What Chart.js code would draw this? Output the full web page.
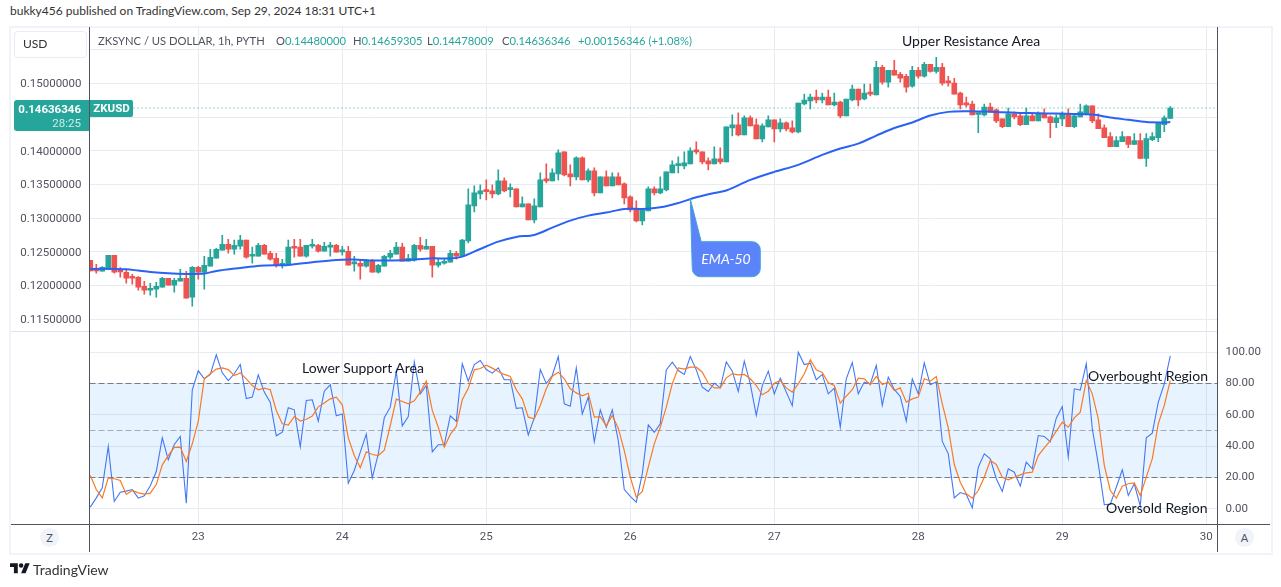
<!DOCTYPE html>
<html lang="en">
<head>
    <meta charset="UTF-8">
    <title>ZKSYNC / US DOLLAR, 1h</title>
    <script src="https://cdn.jsdelivr.net/npm/chart.js"></script>
    <style>
        html, body { margin: 0; padding: 0; background: #fff; overflow: hidden; }
        body { width: 1281px; height: 587px; position: relative; font-family: Lato, sans-serif; color: #131722; }
        .abs { position: absolute; white-space: nowrap; }
        canvas { position: absolute; left: 10px; }
        .legend { top: 34px; font-size: 11.2px; line-height: 14px; color: #50535e; }
        .teal { color: #26a69a; }
        .circle { width: 19px; height: 19px; line-height: 19px; border-radius: 50%; background: #f0f3fa; text-align: center; font-size: 11px; color: #50535e; }
        .note { font-size: 14px; line-height: 16px; color: #131722; }
    </style>
</head>
<body>
    <div class="abs" style="left:10px;top:3px;font-size:12px;line-height:16px;color:#333">bukky456 published on TradingView.com, Sep 29, 2024 18:31 UTC+1</div>

    <div class="abs" style="left:9px;top:26px;width:1260px;height:525px;border:2px solid #f0f3fa"></div>

    <canvas id="price-chart" width="1261" height="304" style="top:27px"></canvas>
    <canvas id="osc-chart" width="1261" height="221" style="top:331px"></canvas>

    <!-- pane borders -->
    <div class="abs" style="left:11px;top:331px;width:1206px;height:1px;background:#e0e3eb"></div>
    <div class="abs" style="left:11px;top:524px;width:1259px;height:1px;background:#50535e"></div>
    <div class="abs" style="left:89px;top:27px;width:1px;height:525px;background:#50535e"></div>
    <div class="abs" style="left:1217px;top:27px;width:1px;height:525px;background:#50535e"></div>

    <div class="abs" style="left:14px;top:31px;width:71px;height:25px;border:1px solid #e9ecf2;border-radius:4px;background:#fff"></div>
    <div class="abs" style="left:23px;top:37px;font-size:12px;line-height:14px;color:#333">USD</div>

    <!-- legend -->
    <div class="abs legend" style="left:98px">ZKSYNC / US DOLLAR, 1h, PYTH</div>
    <div class="abs legend" style="left:276px">O<span class="teal">0.14480000</span></div>
    <div class="abs legend" style="left:353px">H<span class="teal">0.14659305</span></div>
    <div class="abs legend" style="left:427px">L<span class="teal">0.14478009</span></div>
    <div class="abs legend" style="left:502px">C<span class="teal">0.14636346</span></div>
    <div class="abs legend" style="left:578px"><span class="teal">+0.00156346 (+1.08%)</span></div>

    <!-- last price tags -->
    <div class="abs" style="left:14px;top:100px;width:75px;height:31px;background:#26a69a;border-radius:3px 0 0 3px"></div>
    <div class="abs" style="left:14px;top:102px;width:67px;text-align:right;font-family:Roboto;font-size:11.5px;line-height:14px;font-weight:700;color:#fff">0.14636346</div>
    <div class="abs" style="left:14px;top:116px;width:67px;text-align:right;font-family:Roboto;font-size:11.5px;line-height:14px;color:#cdebe7">28:25</div>
    <div class="abs" style="left:90px;top:100px;width:43px;height:17px;line-height:17px;background:#26a69a;border-radius:0 2px 2px 0;text-align:center;font-family:Roboto;font-size:11.5px;font-weight:700;color:#fff">ZKUSD</div>

    <!-- drawings -->
    <div class="abs note" style="left:902px;top:33px">Upper Resistance Area</div>
    <div class="abs note" style="left:302px;top:360px">Lower Support Area</div>
    <div class="abs note" style="left:1088px;top:368px">Overbought Region</div>
    <div class="abs note" style="left:1106px;top:500px">Oversold Region</div>
    <div class="abs" style="left:692px;top:242px;width:68px;height:35px;line-height:34px;text-align:center;font-size:14px;font-style:italic;color:#fff">EMA-50</div>

    <div class="abs circle" style="left:40px;top:528px">Z</div>
    <div class="abs circle" style="left:1235px;top:528px">A</div>

    <svg class="abs" style="left:10px;top:561px" width="20" height="15.5" viewBox="0 0 36 28"><path fill="#131722" d="M14 22H7V11H0V4h14v18zM28 22h-8l7.5-18h8L28 22z"/><circle fill="#131722" cx="20" cy="8" r="4"/></svg>
    <div class="abs" style="left:33px;top:561px;font-size:14px;line-height:17px;color:#333">TradingView</div>

    <script>
        // hourly bars, Sep 22 06:00 -> Sep 29 18:00
        const opens = [
            0.12376,0.12248,0.12213,0.12248,0.12451,0.12213,0.12198,0.12119,0.12124,0.11990,
            0.11931,0.11946,0.11976,0.12109,0.12005,0.12065,0.12109,0.11827,0.12273,0.12198,
            0.12287,0.12406,0.12525,0.12614,0.12540,0.12584,0.12674,0.12436,0.12436,0.12599,
            0.12480,0.12406,0.12302,0.12317,0.12570,0.12570,0.12436,0.12584,0.12599,0.12510,
            0.12570,0.12599,0.12500,0.12510,0.12322,0.12332,0.12287,0.12376,0.12198,0.12287,
            0.12421,0.12466,0.12570,0.12362,0.12376,0.12599,0.12540,0.12584,0.12302,0.12332,
            0.12347,0.12480,0.12436,0.12663,0.13183,0.13361,0.13406,0.13406,0.13361,0.13554,
            0.13425,0.13435,0.13168,0.13213,0.12975,0.13168,0.13569,0.13554,0.13658,0.13985,
            0.13658,0.13614,0.13896,0.13569,0.13703,0.13376,0.13614,0.13480,0.13614,0.13510,
            0.13317,0.13138,0.12960,0.13109,0.13435,0.13376,0.13420,0.13673,0.13782,0.13777,
            0.13807,0.14000,0.13985,0.13851,0.13807,0.13881,0.13836,0.14341,0.14386,0.14237,
            0.14490,0.14386,0.14178,0.14356,0.14460,0.14326,0.14415,0.14341,0.14282,0.14696,
            0.14740,0.14799,0.14755,0.14799,0.14682,0.14726,0.14520,0.14755,0.14917,0.14770,
            0.14858,0.14829,0.15240,0.15020,0.15196,0.15137,0.15108,0.14961,0.15196,0.15108,
            0.15284,0.15181,0.15240,0.15020,0.15005,0.14858,0.14696,0.14696,0.14540,0.14535,
            0.14652,0.14608,0.14476,0.14358,0.14549,0.14520,0.14388,0.14520,0.14446,0.14549,
            0.14505,0.14417,0.14476,0.14535,0.14358,0.14505,0.14549,0.14667,0.14461,0.14343,
            0.14211,0.14064,0.14138,0.14211,0.14094,0.14152,0.13888,0.14167,0.14196,0.14388,
            0.14480
        ];
        const highs = [
            0.12376,0.12317,0.12282,0.12451,0.12451,0.12268,0.12238,0.12169,0.12134,0.12065,
            0.12035,0.12050,0.12124,0.12109,0.12109,0.12243,0.12213,0.12282,0.12287,0.12436,
            0.12540,0.12555,0.12748,0.12688,0.12674,0.12748,0.12674,0.12570,0.12629,0.12614,
            0.12510,0.12480,0.12391,0.12674,0.12688,0.12688,0.12599,0.12688,0.12614,0.12644,
            0.12644,0.12614,0.12584,0.12584,0.12436,0.12376,0.12391,0.12391,0.12317,0.12451,
            0.12525,0.12644,0.12629,0.12466,0.12614,0.12718,0.12688,0.12584,0.12391,0.12406,
            0.12525,0.12510,0.12688,0.13435,0.13480,0.13495,0.13569,0.13495,0.13717,0.13599,
            0.13510,0.13435,0.13317,0.13213,0.13287,0.13673,0.13807,0.13732,0.14015,0.13985,
            0.13792,0.13911,0.13911,0.13732,0.13747,0.13614,0.13703,0.13673,0.13673,0.13524,
            0.13331,0.13257,0.13138,0.13465,0.13465,0.13614,0.13688,0.13851,0.13911,0.13985,
            0.14044,0.14133,0.13985,0.13896,0.14059,0.14044,0.14356,0.14534,0.14564,0.14519,
            0.14519,0.14475,0.14401,0.14519,0.14460,0.14475,0.14430,0.14445,0.14711,0.14843,
            0.14843,0.14902,0.14858,0.14902,0.14858,0.14740,0.14770,0.14976,0.14917,0.14990,
            0.14990,0.15328,0.15270,0.15196,0.15343,0.15167,0.15137,0.15255,0.15240,0.15314,
            0.15284,0.15387,0.15299,0.15108,0.15078,0.14873,0.14799,0.14740,0.14559,0.14696,
            0.14711,0.14623,0.14476,0.14637,0.14579,0.14549,0.14637,0.14549,0.14579,0.14623,
            0.14520,0.14535,0.14579,0.14623,0.14535,0.14696,0.14682,0.14667,0.14549,0.14388,
            0.14270,0.14211,0.14285,0.14211,0.14255,0.14255,0.14255,0.14270,0.14417,0.14520,
            0.14659
        ];
        const lows = [
            0.12218,0.12183,0.12213,0.12248,0.12183,0.12124,0.12035,0.12020,0.11931,0.11872,
            0.11857,0.11827,0.11976,0.12005,0.11901,0.12065,0.11812,0.11693,0.12094,0.11946,
            0.12287,0.12406,0.12525,0.12480,0.12466,0.12540,0.12406,0.12332,0.12436,0.12466,
            0.12376,0.12273,0.12258,0.12317,0.12421,0.12436,0.12421,0.12555,0.12495,0.12510,
            0.12436,0.12495,0.12451,0.12302,0.12213,0.12094,0.12273,0.12198,0.12183,0.12287,
            0.12391,0.12466,0.12362,0.12362,0.12362,0.12510,0.12540,0.12124,0.12273,0.12317,
            0.12347,0.12391,0.12436,0.12633,0.13094,0.13287,0.13272,0.13302,0.13346,0.13391,
            0.13317,0.13168,0.13168,0.12975,0.12930,0.13168,0.13524,0.13554,0.13569,0.13628,
            0.13480,0.13569,0.13569,0.13539,0.13331,0.13376,0.13480,0.13480,0.13495,0.13213,
            0.13094,0.12945,0.12901,0.13109,0.13346,0.13361,0.13406,0.13673,0.13673,0.13732,
            0.13807,0.13955,0.13807,0.13717,0.13807,0.13807,0.13836,0.14222,0.14222,0.14237,
            0.14371,0.14178,0.14133,0.14356,0.14133,0.14282,0.14297,0.14267,0.14267,0.14681,
            0.14623,0.14711,0.14711,0.14682,0.14667,0.14490,0.14520,0.14740,0.14667,0.14755,
            0.14814,0.14829,0.14990,0.14946,0.15123,0.15020,0.14873,0.14946,0.15078,0.15093,
            0.15167,0.15152,0.14976,0.14961,0.14843,0.14623,0.14652,0.14535,0.14270,0.14520,
            0.14579,0.14417,0.14343,0.14358,0.14476,0.14373,0.14388,0.14446,0.14446,0.14490,
            0.14196,0.14343,0.14373,0.14358,0.14343,0.14505,0.14535,0.14417,0.14329,0.14196,
            0.14064,0.14064,0.14138,0.14049,0.14094,0.13888,0.13770,0.14152,0.14138,0.14285,
            0.14478
        ];
        const closes = [
            0.12218,0.12218,0.12273,0.12451,0.12198,0.12203,0.12109,0.12109,0.11976,0.11931,
            0.11961,0.11990,0.12109,0.12005,0.12080,0.12109,0.11812,0.12273,0.12198,0.12302,
            0.12421,0.12540,0.12614,0.12540,0.12599,0.12674,0.12421,0.12451,0.12599,0.12466,
            0.12391,0.12302,0.12332,0.12570,0.12555,0.12436,0.12599,0.12599,0.12510,0.12584,
            0.12599,0.12495,0.12510,0.12302,0.12332,0.12287,0.12376,0.12198,0.12302,0.12436,
            0.12480,0.12570,0.12362,0.12406,0.12599,0.12540,0.12584,0.12302,0.12347,0.12362,
            0.12480,0.12436,0.12674,0.13198,0.13376,0.13406,0.13396,0.13361,0.13554,0.13406,
            0.13435,0.13168,0.13213,0.12975,0.13183,0.13569,0.13554,0.13673,0.13970,0.13643,
            0.13614,0.13896,0.13569,0.13703,0.13376,0.13614,0.13480,0.13614,0.13495,0.13302,
            0.13123,0.12960,0.13123,0.13435,0.13376,0.13435,0.13688,0.13792,0.13792,0.13821,
            0.14000,0.13985,0.13836,0.13807,0.13881,0.13836,0.14356,0.14386,0.14237,0.14490,
            0.14371,0.14178,0.14371,0.14460,0.14326,0.14415,0.14326,0.14282,0.14711,0.14755,
            0.14799,0.14755,0.14799,0.14682,0.14726,0.14520,0.14770,0.14917,0.14755,0.14858,
            0.14843,0.15240,0.15020,0.15196,0.15123,0.15078,0.14946,0.15196,0.15108,0.15284,
            0.15181,0.15240,0.15005,0.15010,0.14843,0.14682,0.14682,0.14535,0.14549,0.14652,
            0.14593,0.14446,0.14358,0.14549,0.14505,0.14388,0.14520,0.14446,0.14549,0.14490,
            0.14417,0.14490,0.14549,0.14358,0.14520,0.14579,0.14667,0.14446,0.14329,0.14196,
            0.14064,0.14152,0.14211,0.14094,0.14152,0.13888,0.14182,0.14211,0.14417,0.14490,
            0.14636
        ];

        // EMA-50, read at these bars only
        const emaBars = [0,4,6,8,10,13,16,19,21,25,27,29,33,37,41,44,47,52,57,60,62,65,68,71,74,77,80,83,86,89,92,95,98,101,104,106,110,114,118,122,125,128,131,134,137,140,143,146,149,152,155,158,161,164,167,170,173,176,179,180];
        const emaValues = [0.12248,0.12248,0.12243,0.12223,0.12203,0.12183,0.12174,0.12178,0.12218,0.12263,0.12282,0.12297,0.12307,0.12347,0.12381,0.12386,0.12372,0.12376,0.12406,0.12402,0.12430,0.12544,0.12653,0.12723,0.12752,0.12861,0.12965,0.13039,0.13084,0.13138,0.13138,0.13163,0.13227,0.13312,0.13376,0.13411,0.13569,0.13688,0.13792,0.13940,0.14035,0.14108,0.14226,0.14339,0.14422,0.14525,0.14579,0.14588,0.14584,0.14574,0.14564,0.14559,0.14554,0.14549,0.14539,0.14495,0.14461,0.14427,0.14422,0.14427];

        // stochastic RSI
        const stochK = [
            1.1,7.0,13.4,39.8,4.7,10.6,11.3,12.3,6.8,8.3,
            14.7,23.8,45.3,31.3,41.1,46.2,3.6,76.0,88.1,83.0,
            85.8,98.3,86.8,81.9,86.2,92.1,70.4,71.3,85.5,74.5,
            67.9,46.6,48.9,64.5,63.2,39.6,69.2,69.6,56.0,75.1,
            79.2,59.4,60.6,16.4,24.5,36.2,47.7,19.8,35.1,58.1,
            64.9,87.9,53.0,58.9,93.8,73.4,78.7,36.4,40.9,40.9,
            59.4,55.8,92.6,81.5,92.1,94.7,88.9,86.6,90.0,82.4,
            82.4,64.1,64.5,47.2,58.1,88.9,80.0,85.1,97.2,67.0,
            65.5,90.0,60.6,71.3,42.8,63.2,52.1,63.2,43.6,12.3,
            7.9,4.3,22.3,53.6,48.9,54.3,88.7,93.6,88.3,85.8,
            97.2,88.7,77.7,74.9,80.2,77.2,93.8,87.9,74.9,94.3,
            79.8,59.6,78.7,87.9,73.4,83.4,74.5,65.8,100.0,92.1,
            93.0,82.4,85.8,73.4,77.0,52.1,83.0,93.4,73.4,80.9,
            79.8,91.5,66.0,84.1,76.2,71.7,56.0,83.0,73.4,93.2,
            79.2,81.1,43.0,35.1,7.0,10.4,9.2,0.6,26.6,35.1,
            31.9,19.2,11.1,25.5,23.4,14.5,29.8,25.5,46.8,46.2,
            42.8,57.9,65.3,33.0,76.6,75.8,92.6,51.1,28.7,2.6,
            3.0,13.8,24.9,8.5,16.0,1.7,45.3,48.3,68.1,79.8,
            97.7
        ];
        const stochD = [
            21.3,12.3,7.0,19.8,19.2,18.1,9.2,11.7,10.2,9.4,
            10.0,15.5,28.1,34.0,39.2,39.4,30.2,41.5,56.0,83.0,
            86.2,89.2,90.0,88.9,85.1,86.8,83.0,78.7,76.0,77.0,
            76.0,62.8,54.3,53.4,58.9,56.0,57.2,59.2,65.1,67.5,
            70.2,71.3,66.4,45.3,34.0,26.2,36.4,34.7,34.0,37.5,
            53.2,70.0,68.5,67.0,68.9,74.5,81.5,62.8,52.1,39.4,
            47.5,52.6,69.6,77.0,88.7,89.6,91.7,89.8,87.7,85.8,
            84.5,76.0,70.2,58.5,57.5,66.0,76.6,84.7,87.2,83.0,
            76.6,74.0,72.1,73.8,58.5,58.9,53.0,59.6,51.5,37.2,
            20.2,7.4,11.1,26.6,41.5,52.1,64.9,79.8,90.0,89.2,
            90.4,90.4,87.2,80.2,77.2,77.2,83.6,86.2,85.5,85.8,
            83.0,78.7,72.8,75.1,80.2,81.9,77.2,74.5,79.8,86.2,
            95.1,88.7,87.0,80.4,78.7,67.5,71.9,76.0,83.4,83.0,
            79.2,84.5,79.4,80.9,75.5,77.2,68.1,70.2,71.3,83.0,
            81.5,84.5,67.0,51.7,28.3,17.0,9.6,6.8,11.7,20.2,
            30.9,28.3,20.2,18.5,20.2,21.7,23.0,23.4,34.0,38.9,
            43.6,49.6,55.3,52.1,58.1,61.7,81.9,73.4,57.5,27.7,
            11.7,6.8,14.5,16.0,16.6,8.5,20.2,31.9,54.3,66.0,
            81.9
        ];

        const lastPrice = 0.14636346;
        const priceTicks = [0.115,0.12,0.125,0.13,0.135,0.14,0.145,0.15,0.155];
        const oscTicks = [0,20,40,60,80,100];
        const oscLevels = [80,50,20];
        const dayTickBars = [18,42,66,90,114,138,162,186];
        const dayLabels = ['23','24','25','26','27','28','29','30'];

        const UP = '#26a69a', DOWN = '#ef5350', GRID = '#e6ecf2';
        const AXIS_FONT = { family: 'Roboto', size: 11.5 };
        const X_MIN = -0.13, X_MAX = 187.87;

        const barColors = closes.map((c, i) => c >= opens[i] ? UP : DOWN);

        // label overhang must not shrink the chart area
        function noScalePadding(s) {
            s.paddingTop = s.paddingBottom = s.paddingLeft = s.paddingRight = 0;
        }

        // shared x axis, one unit is one hourly bar
        function timeAxis(showLabels) {
            return {
                type: 'linear', min: X_MIN, max: X_MAX, offset: false,
                afterBuildTicks: s => { s.ticks = dayTickBars.map(v => ({ value: v })); },
                afterFit: s => { s.height = showLabels ? 28 : 0; noScalePadding(s); },
                grid: { color: GRID, drawTicks: false, offset: false },
                border: { display: false },
                ticks: {
                    display: showLabels, autoSkip: false, maxRotation: 0, padding: 6,
                    color: '#50535e', font: AXIS_FONT,
                    callback: (v, i) => dayLabels[i]
                }
            };
        }

        // blue callout pointing at the EMA line
        const calloutBar = 100, calloutPrice = 0.1329;
        const emaCallout = {
            id: 'emaCallout',
            afterDatasetsDraw(chart) {
                const c = chart.ctx;
                const tipX = chart.scales.x.getPixelForValue(calloutBar);
                const tipY = chart.scales.y.getPixelForValue(calloutPrice);
                const l = tipX + 2, t = tipY + 43, w = 68, h = 35, r = 8;
                c.save();
                c.beginPath();
                c.moveTo(tipX, tipY);
                c.lineTo(l + 9, t);
                c.lineTo(l + w - r, t);
                c.arcTo(l + w, t, l + w, t + r, r);
                c.lineTo(l + w, t + h - r);
                c.arcTo(l + w, t + h, l + w - r, t + h, r);
                c.lineTo(l + r, t + h);
                c.arcTo(l, t + h, l, t + h - r, r);
                c.closePath();
                c.fillStyle = '#5b84fb';
                c.strokeStyle = '#45a3d8';
                c.lineWidth = 1;
                c.fill();
                c.stroke();
                c.restore();
            }
        };

        new Chart(document.getElementById('price-chart'), {
            data: {
                datasets: [
                    {
                        type: 'line', order: 0,
                        data: emaBars.map((b, i) => ({ x: b, y: emaValues[i] })),
                        borderColor: '#2a62f5', borderWidth: 2, pointRadius: 0, tension: 0.3
                    },
                    {
                        type: 'bar', order: 1, grouped: false, barThickness: 5, minBarLength: 2,
                        data: closes.map((c, i) => ({ x: i, y: [Math.min(opens[i], c), Math.max(opens[i], c)] })),
                        backgroundColor: barColors
                    },
                    {
                        type: 'bar', order: 2, grouped: false, barThickness: 1,
                        data: closes.map((c, i) => ({ x: i, y: [lows[i], highs[i]] })),
                        backgroundColor: barColors
                    },
                    {
                        type: 'line', order: 3,
                        data: [{ x: X_MIN, y: lastPrice }, { x: X_MAX, y: lastPrice }],
                        borderColor: UP, borderWidth: 1, borderDash: [1, 3], pointRadius: 0
                    }
                ]
            },
            options: {
                responsive: false, animation: false, events: [],
                layout: { padding: { right: 53.5 } },
                plugins: { legend: { display: false }, tooltip: { enabled: false } },
                scales: {
                    x: timeAxis(false),
                    y: {
                        min: 0.11326, max: 0.15839,
                        afterBuildTicks: s => { s.ticks = priceTicks.map(v => ({ value: v })); },
                        afterFit: s => { s.width = 79.5; noScalePadding(s); },
                        grid: { color: GRID, drawTicks: false },
                        border: { display: false },
                        ticks: {
                            autoSkip: false, padding: 8, labelOffset: 1, color: '#50535e', font: AXIS_FONT,
                            callback: v => v > 0.15 ? '' : v.toFixed(8)
                        }
                    }
                }
            },
            plugins: [emaCallout]
        });

        const levelDatasets = oscLevels.map(level => ({
            type: 'line', order: 2,
            data: [{ x: X_MIN, y: level }, { x: X_MAX, y: level }],
            borderColor: level === 50 ? '#a9abb3' : '#787b86',
            borderWidth: 1, borderDash: [6, 3], pointRadius: 0
        }));

        new Chart(document.getElementById('osc-chart'), {
            data: {
                datasets: [
                    {
                        type: 'line', order: 0,
                        data: stochD.map((v, i) => ({ x: i, y: v })),
                        borderColor: '#f97a24', borderWidth: 1.2, pointRadius: 0
                    },
                    {
                        type: 'line', order: 1,
                        data: stochK.map((v, i) => ({ x: i, y: v })),
                        borderColor: '#4477f5', borderWidth: 1.1, pointRadius: 0
                    },
                    ...levelDatasets,
                    {
                        type: 'line', order: 3,
                        data: [{ x: X_MIN, y: oscLevels[0] }, { x: X_MAX, y: oscLevels[0] }],
                        borderWidth: 0, pointRadius: 0,
                        fill: { value: oscLevels[2] }, backgroundColor: 'rgba(33,150,243,0.11)'
                    }
                ]
            },
            options: {
                responsive: false, animation: false, events: [],
                layout: { padding: { left: 79.5 } },
                plugins: { legend: { display: false }, tooltip: { enabled: false } },
                scales: {
                    x: timeAxis(true),
                    y: {
                        position: 'right', min: -9.68, max: 113.51,
                        afterBuildTicks: s => { s.ticks = oscTicks.map(v => ({ value: v })); },
                        afterFit: s => { s.width = 53.5; noScalePadding(s); },
                        grid: { color: GRID, drawTicks: false },
                        border: { display: false },
                        ticks: {
                            autoSkip: false, padding: 8, color: '#50535e', font: AXIS_FONT,
                            callback: v => v.toFixed(2)
                        }
                    }
                }
            }
        });
    </script>
</body>
</html>
